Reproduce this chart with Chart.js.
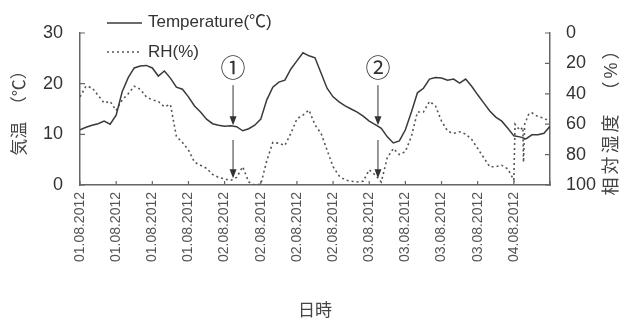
<!DOCTYPE html>
<html><head><meta charset="utf-8">
<script src="https://cdn.jsdelivr.net/npm/chart.js@4/dist/chart.umd.min.js"></script>
<style>html,body{margin:0;padding:0;background:#fff;}#wrap{width:624px;height:322px;}</style>
</head><body><div id="wrap"><canvas id="c" width="624" height="322"></canvas></div>
<script>
// ---- data (hours since 01.08.2012 00:00) ----
const tempHours = [0,1,2,3,4,5,6,7,8,9,10,11,12,13,14,15,16,17,18,19,20,21,22,23,24,25,26,27,28,29,30,31,32,33,34,35,36,37,38,39,40,41,42,43,44,45,46,47,48,49,50,51,52,53,54,55,56,57,58,59,60,61,62,63,64,65,66,67,68,69,70,71,72,73,74,75,76,77,78];
const temperature = [10.9,11.4,11.8,12.1,12.6,12.0,13.8,18.4,21.2,23.1,23.5,23.6,23.1,21.5,22.5,21.1,19.3,18.9,17.4,15.6,14.4,13.0,12.1,11.8,11.6,11.7,11.5,10.7,11.1,11.8,13.0,16.8,19.3,20.3,20.7,22.9,24.5,26.1,25.5,25.1,22.1,19.1,17.4,16.4,15.6,15.0,14.4,13.6,12.6,11.9,11.2,9.5,8.3,8.7,10.9,14.4,18.2,19.1,20.9,21.2,21.1,20.7,20.9,20.1,20.9,19.5,17.8,16.2,14.6,13.4,12.6,11.2,9.7,9.5,9.1,9.9,9.9,10.2,11.6];
const rhHours = [0,1,2,3,4,5,6,7,8,9,10,11,12,13,14,15,16,17,18,19,20,21,22,23,24,25,26,27,28,29,30,31,32,33,34,35,36,37,38,39,40,41,42,43,44,45,46,47,48,49,50,51,52,53,54,55,56,57,58,59,60,61,62,63,64,65,66,67,68,69,70,71,72,72.2,73,73.5,73.6,73.8,74.5,75,76,77,78];
const humidity = [42,35,36,41,46,45,51,44,40,35,37,42,44,45,48.5,47,68,72,77,85,87,89,93,95,96,97,95,88,98,100,99.5,84,72,72.5,74,66,56.5,54,50.7,60.5,66,77,88,94,96.7,97.5,98,97.5,90,93.4,98,82,76,80,78,68,52,52,45,48,58,64.5,66,65,66.5,70,76,82,88,88,87,89.5,96.7,60,64,62,85,60,53,52.6,55,56,58.5];
const tickHours = [0,6,12,18,24,30,36,42,48,54,60,66,72,78];
const xTickLabels = ['01.08.2012','01.08.2012','01.08.2012','01.08.2012','02.08.2012','02.08.2012','02.08.2012','02.08.2012','03.08.2012','03.08.2012','03.08.2012','03.08.2012','04.08.2012'];
const seriesNames = ['Temperature(℃)','RH(%)'];

const FONT = "'Liberation Sans', Arial, 'Noto Sans CJK JP', sans-serif";
Chart.defaults.font.family = FONT;
Chart.defaults.color = '#333';

const insideTicks = {
  id: 'insideTicks',
  afterDraw(chart) {
    const ctx = chart.ctx, a = chart.chartArea;
    const sx = chart.scales.x, sy = chart.scales.y, sr = chart.scales.y1;
    ctx.save();
    ctx.strokeStyle = '#666'; ctx.lineWidth = 1.2;
    ctx.beginPath();
    sx.ticks.forEach(t => { const p = sx.getPixelForValue(t.value); ctx.moveTo(p, a.bottom); ctx.lineTo(p, a.bottom - 4); });
    sy.ticks.forEach(t => { const p = sy.getPixelForValue(t.value); ctx.moveTo(a.left, p); ctx.lineTo(a.left + 5, p); });
    sr.ticks.forEach(t => { const p = sr.getPixelForValue(t.value); ctx.moveTo(a.right, p); ctx.lineTo(a.right - 5, p); });
    ctx.stroke();
    // right axis title (reads bottom-to-top)
    ctx.fillStyle = '#444';
    ctx.font = "18px " + FONT;
    if ('letterSpacing' in ctx) ctx.letterSpacing = '3px';
    ctx.translate(612, (a.top + a.bottom) / 2 + 8);
    ctx.rotate(-Math.PI / 2);
    ctx.textAlign = 'center'; ctx.textBaseline = 'middle';
    ctx.fillText('相対湿度　（%）', 0, 0);
    ctx.restore();
  }
};

const legendPlugin = {
  id: 'legendInside',
  afterDraw(chart) {
    const ctx = chart.ctx, a = chart.chartArea;
    const ds = chart.data.datasets;
    ctx.save();
    const rows = [a.top - 11, a.top + 19];
    ds.forEach((d, i) => {
      const y = rows[i];
      ctx.strokeStyle = d.borderColor; ctx.lineWidth = d.borderWidth;
      ctx.setLineDash(d.borderDash || []);
      ctx.beginPath(); ctx.moveTo(a.left + 27, y + (i === 0 ? 1 : 0)); ctx.lineTo(a.left + 62, y + (i === 0 ? 1 : 0)); ctx.stroke();
      ctx.setLineDash([]);
      ctx.fillStyle = '#333'; ctx.font = "17px " + FONT;
      ctx.textAlign = 'left'; ctx.textBaseline = 'middle';
      ctx.fillText(d.label, a.left + 68, y);
    });
    ctx.restore();
  }
};

const markerPlugin = {
  id: 'markers',
  afterDatasetsDraw(chart, args, opts) {
    const ctx = chart.ctx, sx = chart.scales.x, sy = chart.scales.y, sr = chart.scales.y1;
    ctx.save();
    ctx.strokeStyle = '#333'; ctx.fillStyle = '#333'; ctx.lineWidth = 1;
    const arrow = (x, y0, y1) => {
      ctx.beginPath(); ctx.moveTo(x, y0); ctx.lineTo(x, y1 - 8); ctx.stroke();
      ctx.beginPath(); ctx.moveTo(x - 3.5, y1 - 9); ctx.lineTo(x + 3.5, y1 - 9); ctx.lineTo(x, y1); ctx.closePath(); ctx.fill();
    };
    opts.items.forEach(m => {
      const x = sx.getPixelForValue(m.hour);
      ctx.fillStyle = '#333';
      ctx.font = "25px 'Noto Sans CJK JP'";
      ctx.textAlign = 'center'; ctx.textBaseline = 'middle';
      ctx.fillText(m.label, x, sy.getPixelForValue(m.labelT));
      arrow(x, sy.getPixelForValue(m.a1Top), sy.getPixelForValue(m.a1Tip));
      arrow(x, sr.getPixelForValue(m.a2Top), sr.getPixelForValue(m.a2Tip));
    });
    ctx.restore();
  }
};

new Chart(document.getElementById('c'), {
  type: 'line',
  data: {
    datasets: [
      { label: seriesNames[0], data: tempHours.map((h, i) => ({x: h, y: temperature[i]})), yAxisID: 'y',
        borderColor: '#3a3a3a', borderWidth: 1.5, pointRadius: 0, tension: 0, fill: false },
      { label: seriesNames[1], data: rhHours.map((h, i) => ({x: h, y: humidity[i]})), yAxisID: 'y1',
        borderColor: '#555', borderWidth: 1.6, borderDash: [2, 3], pointRadius: 0, tension: 0, fill: false }
    ]
  },
  options: {
    responsive: false, animation: false, devicePixelRatio: 1,
    layout: { padding: { top: 33, left: 0, right: 0, bottom: 0 } },
    plugins: {
      legend: { display: false }, tooltip: { enabled: false },
      markers: { items: [
        { label: '①', hour: 25.4, labelT: 23.1, a1Top: 19.7, a1Tip: 11.8, a2Top: 70.4, a2Tip: 95.5 },
        { label: '②', hour: 49.45, labelT: 23.1, a1Top: 19.7, a1Tip: 11.8, a2Top: 70.4, a2Tip: 95.5 }
      ] }
    },
    scales: {
      x: {
        type: 'linear', position: 'bottom', min: 0, max: 78,
        afterBuildTicks: s => { s.ticks = tickHours.map(v => ({ value: v })); },
        ticks: { autoSkip: false, minRotation: 90, maxRotation: 90, padding: 7, color: '#555',
          font: { size: 14 }, callback: (v, i) => xTickLabels[i] || '' },
        grid: { drawOnChartArea: false, drawTicks: false },
        border: { display: true, color: '#666', width: 1.5 },
        title: { display: true, text: '日時', color: '#444', font: { size: 17 }, padding: { top: 0, bottom: 0 } },
        afterFit: s => { s.height = 137; }
      },
      y: {
        position: 'left', min: 0, max: 30,
        ticks: { stepSize: 10, padding: 17, color: '#333', font: { size: 18 } },
        grid: { drawOnChartArea: false, drawTicks: false },
        border: { display: true, color: '#666', width: 1.5 },
        title: { display: true, text: '気温　（℃）', color: '#444', font: { size: 17 }, padding: { top: 10, bottom: 0 } },
        afterFit: s => { s.width = 80; }
      },
      y1: {
        position: 'right', min: 0, max: 100, reverse: true,
        ticks: { stepSize: 20, padding: 16, color: '#333', font: { size: 18 } },
        grid: { drawOnChartArea: false, drawTicks: false },
        border: { display: true, color: '#666', width: 1.5 },
        afterFit: s => { s.width = 74; }
      }
    }
  },
  plugins: [insideTicks, legendPlugin, markerPlugin]
});
</script></body></html>
